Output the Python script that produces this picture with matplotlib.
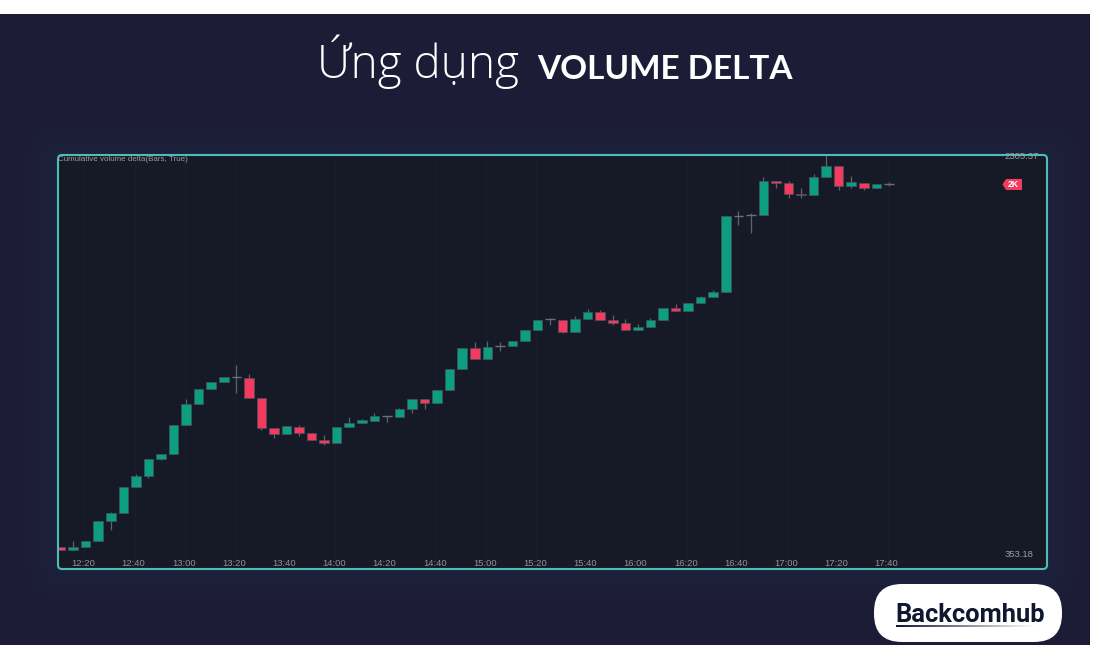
import numpy as np
import matplotlib
matplotlib.use("Agg")
import matplotlib.pyplot as plt
from matplotlib.patches import FancyBboxPatch, Rectangle, Polygon
from matplotlib.transforms import ScaledTranslation

opens = [345,330,345,375,477,515,644,702,784,810,955,1060,1135,1170,1194,1192,1090,940,908,947,915,881,863,945,965,976,998,994,1035,1085,1063,1128,1235,1341,1286,1348,1348,1376,1431,1483,1482,1421,1484,1521,1480,1466,1430,1446,1480,1538,1526,1563,1593,1620,2000,2003,2003,2175,2165,2111,2103,2196,2248,2148,2166,2140,2159]
highs = [345,377,375,477,520,644,710,784,810,955,1085,1135,1170,1195,1255,1210,1090,940,950,957,915,903,945,994,987,1014,1000,1040,1085,1085,1128,1235,1341,1371,1375,1370,1376,1431,1480,1492,1482,1500,1534,1530,1504,1487,1458,1490,1538,1560,1563,1602,1632,2000,2027,2015,2194,2175,2175,2141,2212,2305,2248,2200,2166,2160,2168]
lows = [332,330,345,375,428,515,644,692,780,810,955,1060,1135,1170,1115,1088,928,892,908,900,880,857,863,945,965,976,968,994,1015,1035,1063,1128,1235,1286,1286,1325,1348,1376,1431,1453,1416,1421,1484,1479,1455,1430,1430,1446,1480,1526,1526,1563,1593,1620,1955,1915,2003,2141,2091,2091,2103,2196,2130,2141,2128,2140,2150]
closes = [332,345,375,477,515,644,702,784,810,955,1060,1135,1170,1195,1194,1088,940,908,948,915,880,863,945,967,978,998,998,1035,1085,1063,1128,1235,1341,1286,1347,1348,1376,1431,1480,1483,1421,1484,1521,1479,1466,1430,1446,1480,1538,1526,1563,1593,1620,2000,2000,2003,2175,2165,2110,2103,2196,2248,2148,2168,2140,2160,2159]
tick_labels = ["12:20","12:40","13:00","13:20","13:40","14:00","14:20","14:40","15:00","15:20","15:40","16:00","16:20","16:40","17:00","17:20","17:40"]
tick_index = list(range(2, 67, 4))
study_label = "Cumulative volume delta(Bars, True)"
y_max_label, y_min_label = "2305.37", "353.18"
last_tag = "2K"

GREEN, RED, DOJI = "#0d9d80", "#f23b5f", "#6b6f78"
W, H = 1100, 660
fig = plt.figure(figsize=(11, 6.6), dpi=100, facecolor="white")

bg = fig.add_axes([0, 0, 1, 1], zorder=0)
bg.set_xlim(0, W); bg.set_ylim(H, 0); bg.axis("off")
bg.add_patch(Rectangle((0, 14), 1090, 631, fc="#1c1c36", ec="none"))
for pad in (28, 22, 16, 10, 5):
    bg.add_patch(FancyBboxPatch((58-pad, 155-pad), 989+2*pad, 414+2*pad,
                                boxstyle=f"round,pad=0,rounding_size={pad+4}",
                                fc="#2a3050", ec="none", alpha=0.07))
bg.add_patch(FancyBboxPatch((58, 155), 989, 414, boxstyle="round,pad=0,rounding_size=4",
                            fc="#151a26", ec="#4fbdb5", lw=1.5))

ax = fig.add_axes([59/W, 1-568/H, 987/W, 412.5/H], zorder=1)
ax.patch.set_alpha(0)
x0 = (59-60.6)/12.55
ax.set_xlim(x0, x0 + 987/12.55)
ax.set_ylim(3080-5*568, 3080-5*155.5)
for s in ax.spines.values():
    s.set_visible(False)
ax.set_yticks([])
ax.set_xticks([i-0.1 for i in tick_index])
ax.set_xticklabels(tick_labels, fontsize=6.8, color="#8f9299", family="Liberation Sans")
ax.tick_params(axis="x", length=0, pad=-6.5)
shift = ScaledTranslation(-0.8/72, 0, fig.dpi_scale_trans)
for lab in ax.get_xticklabels():
    lab.set_transform(lab.get_transform() + shift)
ax.grid(axis="x", color="#191e2b", lw=0.8)
ax.set_axisbelow(True)

xs = np.arange(len(opens))
o, h, l, c = map(np.array, (opens, highs, lows, closes))
colors = [GREEN if b > a else RED if b < a else DOJI for a, b in zip(o, c)]
ax.vlines(xs, l, h, color="#5d626c", lw=0.9, zorder=2)
ax.bar(xs, np.abs(c-o), bottom=np.minimum(o, c), width=0.76, color=colors,
       edgecolor="#4a5560", linewidth=0.4, zorder=3)
dj = o == c
ax.hlines(c[dj], xs[dj]-0.38, xs[dj]+0.38, color=DOJI, lw=1.0, zorder=3)

ax.text(-0.001, 0.9985, study_label, transform=ax.transAxes, fontsize=5.8, color="#9a9da3",
        family="Liberation Sans", va="top", ha="left")
ax.text(0.9925, 0.9965, y_max_label, transform=ax.transAxes, fontsize=6.8, color="#9a9da3",
        family="Liberation Sans", va="center", ha="right")
ax.text(0.9875, 0.0325, y_min_label, transform=ax.transAxes, fontsize=6.8, color="#9a9da3",
        family="Liberation Sans", va="center", ha="right")

top = fig.add_axes([0, 0, 1, 1], zorder=2)
top.set_xlim(0, W); top.set_ylim(H, 0); top.axis("off"); top.patch.set_alpha(0)
top.add_patch(Polygon([(1002.5, 184.5), (1006, 179), (1022, 179), (1022, 190), (1006, 190)],
                      fc=RED, ec="none"))
top.text(1013.5, 184.8, last_tag, color="white", fontsize=6.2, fontweight="bold",
         ha="center", va="center", family="Liberation Sans")

top.text(317, 78, "Ứng dụng", color="white", fontsize=33, family="Open Sans", fontweight="light",
         ha="left", va="baseline")
top.text(537, 79, "VOLUME DELTA", color="white", fontsize=24, family="Lato", fontweight="bold",
         ha="left", va="baseline")

top.add_patch(FancyBboxPatch((874, 584), 188, 58, boxstyle="round,pad=0,rounding_size=28",
                             fc="white", ec="none"))
top.text(895, 622, "Backcomhub", color="#10182f", fontsize=18.4, family="Roboto", fontweight="bold",
         ha="left", va="baseline")
start = np.array([0x10, 0x18, 0x2f])/255
ramp = np.linspace(0, 1, 140)[None, :, None]
grad = start + (1-start)*ramp
top.imshow(grad, extent=(896, 1035, 627.5, 625.5), aspect="auto", zorder=3)
top.set_xlim(0, W); top.set_ylim(H, 0)

fig.savefig("out.png", dpi=100, facecolor="white")
